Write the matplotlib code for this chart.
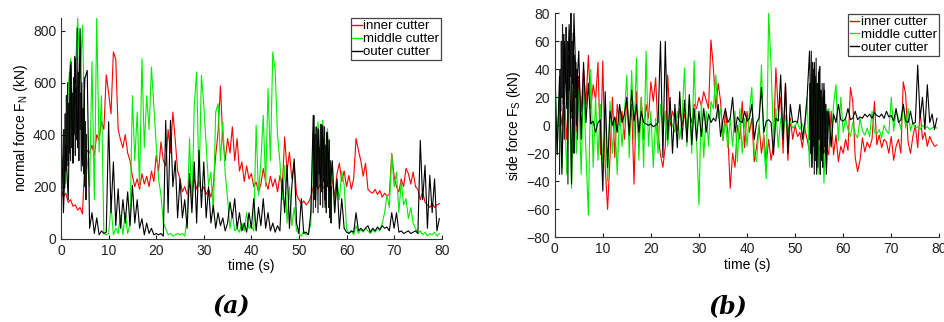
import numpy as np
import matplotlib.pyplot as plt

plt.rcParams['font.family'] = ['Liberation Sans', 'DejaVu Sans']

dt = 0.5
# finer step for the dense bursts of the outer cutter
dt_burst = 0.125

# (a) normal force, kN, one value every 0.5 s from t = 0
fn_inner = [190, 160, 175, 140, 150, 125, 130, 110, 120, 95,
            300, 340, 330, 360, 320, 400, 380, 450, 420, 630,
            560, 480, 718, 690, 420, 380, 350, 400, 330, 300,
            240, 200, 230, 190, 250, 210, 240, 200, 260, 220,
            320, 260, 372, 300, 280, 420, 330, 487, 380, 260,
            230, 180, 200, 170, 210, 180, 230, 190, 220, 180,
            200, 170, 190, 160, 205, 320, 410, 587, 380, 300,
            385, 330, 430, 300, 385, 260, 295, 220, 280, 230,
            250, 200, 218, 180, 210, 270, 220, 190, 240, 200,
            230, 180, 243, 200, 391, 260, 333, 230, 290, 170,
            150, 135, 145, 130, 140, 160, 200, 220, 190, 210,
            200, 190, 220, 180, 230, 160, 250, 290, 220, 260,
            200, 243, 190, 230, 385, 340, 300, 240, 290, 190,
            180, 175, 190, 170, 185, 160, 175, 165, 170, 327,
            240, 200, 180, 230, 200, 270, 250, 210, 256, 200,
            190, 150, 180, 140, 130, 120, 135, 120, 130, 135]
fn_middle = [250, 320, 210, 580, 692, 450, 640, 850, 615, 820,
             420, 300, 200, 680, 150, 850, 333, 550, 20, 15,
             20, 128, 15, 40, 20, 90, 15, 100, 20, 60,
             550, 300, 487, 200, 692, 350, 550, 420, 660, 513,
             360, 230, 167, 60, 40, 15, 20, 10, 15, 20,
             15, 20, 10, 80, 385, 120, 513, 641, 200, 628,
             513, 360, 205, 256, 100, 487, 519, 300, 450, 250,
             154, 40, 100, 30, 40, 25, 60, 30, 100, 40,
             50, 30, 436, 167, 295, 474, 200, 577, 300, 718,
             647, 397, 295, 150, 282, 60, 200, 50, 120, 30,
             20, 10, 30, 15, 20, 60, 410, 200, 449, 300,
             455, 250, 423, 100, 295, 100, 218, 150, 260, 205,
             40, 20, 30, 15, 50, 20, 35, 25, 40, 30,
             20, 35, 25, 40, 30, 60, 100, 167, 120, 327,
             200, 256, 100, 220, 130, 154, 77, 120, 60, 40,
             20, 30, 15, 25, 10, 20, 15, 25, 10, 20]
fn_outer = [500, 100, 360, 150, 667, 300, 692, 350, 808, 280,
            615, 647, 40, 100, 20, 80, 15, 30, 20, 25,
            450, 100, 295, 50, 192, 40, 150, 60, 180, 50,
            205, 60, 150, 40, 77, 15, 60, 20, 40, 15,
            20, 15, 20, 10, 455, 100, 455, 200, 300, 80,
            230, 80, 150, 40, 250, 100, 295, 60, 340, 120,
            295, 80, 200, 60, 128, 40, 100, 50, 80, 30,
            60, 141, 80, 154, 40, 100, 30, 60, 25, 100,
            40, 154, 30, 120, 50, 154, 40, 100, 30, 60,
            25, 50, 30, 230, 100, 282, 40, 200, 307, 60,
            20, 154, 20, 25, 15, 100, 474, 150, 423, 200,
            435, 120, 400, 180, 300, 100, 230, 38, 154, 40,
            25, 20, 30, 25, 100, 30, 40, 30, 40, 50,
            25, 40, 30, 45, 35, 50, 40, 45, 30, 100,
            40, 100, 25, 30, 20, 25, 30, 20, 25, 30,
            20, 378, 150, 282, 40, 244, 100, 230, 30, 77]

# dense bursts of the outer cutter in (a), start times and 0.125 s samples
fn_burst_start = [0.5, 53.0]
fn_burst_1 = [150, 420, 200, 480, 260, 550, 300, 600, 280, 520,
              330, 640, 300, 680, 350, 560, 290, 620, 400, 700,
              320, 580, 380, 810, 350, 640, 300, 700, 420, 560,
              260, 600, 300, 500, 250, 620, 200, 450, 150, 400]
fn_burst_2 = [100, 474, 150, 400, 120, 430, 200, 380, 100, 420,
              250, 350, 130, 440, 180, 400, 120, 380, 220, 430,
              150, 360, 100, 410, 200, 330, 120, 380, 80, 300,
              60, 200]

# (b) side force, kN
fs_inner = [10, -5, 15, 0, 20, -10, 25, 5, 30, -5,
            35, 10, 40, 15, 50, 12, 29, 18, 45, -21,
            46, -30, -60, -23, 20, -23, 15, 0, 10, -10,
            20, -10, 15, -42, 24, -16, 20, -10, 15, 5,
            31, 17, 34, -7, -21, -30, -15, 36, 0, 10,
            5, -4, 12, 0, 8, -5, 10, 2, 15, 12,
            20, 14, 24, 18, 12, 61, 41, 12, 30, 17,
            -11, 10, -5, -45, -20, -30, 0, -10, 17, -16,
            10, -5, 5, -26, -15, 0, -20, -7, -28, -10,
            -25, -15, 41, 10, 20, -20, 30, -25, 5, -10,
            0, -8, -5, -16, -2, -10, -19, -7, -15, -12,
            -18, -10, -19, -16, -21, 10, -21, -7, -26, -15,
            -20, -10, -18, 27, 17, -23, -33, -25, -9, -19,
            -12, -16, -10, 17, -14, -7, -16, -10, -12, -20,
            -8, -25, -15, -10, -20, 31, 22, -12, -20, -8,
            0, -16, 10, -10, -5, -15, -8, -12, -15, -14]
fs_middle = [50, -20, 24, -30, 20, -35, 30, -45, 36, -20,
             25, -35, 30, -20, -64, 40, -30, 20, -25, 15,
             -30, 10, -40, 17, -20, 5, -35, 10, -15, 8,
             36, -23, 39, -10, 48, -25, 20, -30, 53, -15,
             10, -30, 5, -20, 15, -5, 10, -15, 5, 0,
             -5, 10, -10, 5, 41, -15, 20, -20, 46, -10,
             -57, 17, -23, 10, -15, 17, 12, 36, 5, 12,
             -10, 3, -16, 5, -15, 10, -26, 12, -20, 5,
             -15, 10, 27, -20, -26, 0, 43, -15, -38, 80,
             43, -10, 12, -16, 5, -7, 7, -5, 3, -2,
             0, 2, -3, 1, -5, 20, -30, 36, -25, 30,
             -35, 20, -41, 10, 12, -16, 15, 29, -11, 20,
             -5, 5, -3, -8, 2, -6, -9, 5, -4, -7,
             -2, -8, 10, -5, -6, -3, -9, 0, -4, -6,
             20, -4, 10, 5, -3, 15, -2, 12, -4, 2,
             -2, -1, -3, 0, -2, -1, -3, -2, -1, -2]
fs_outer = [43, -21, 35, -35, 60, 12, 72, -42, 80, 20,
            53, -10, 45, 2, 30, 1, 3, -5, 2, 4,
            -47, 24, -30, 10, 0, 6, -5, 15, 2, 8,
            20, -7, 25, 3, 15, -5, 10, 2, 1, 0,
            1, -1, 0, 2, 60, -23, 60, -10, 20, -20,
            15, -16, 24, -10, 18, -12, 22, -14, 12, -11,
            10, -8, 12, -5, 8, 2, 5, 3, 15, -8,
            4, 12, 2, 5, 20, -5, 6, 3, 2, 10,
            3, 5, 15, -10, 2, 5, 27, -5, 3, 4,
            2, -21, 5, 3, 36, -10, 30, -20, 15, 2,
            3, 2, 15, -10, 1, 20, 53, -30, 45, -35,
            40, -25, 30, -35, 10, -15, 8, 2, 15, 4,
            3, 5, 12, 4, 5, 10, 4, 6, 5, 8,
            6, 8, 5, 9, 7, 6, 8, 5, 10, 6,
            7, 3, 12, 2, 4, 15, 3, 2, 10, 1,
            2, 43, 5, 20, -3, 29, 2, 8, -3, 5]

fs_burst_start = [1.0, 53.0]
fs_burst_1 = [-35, 40, 10, 60, 20, 72, 15, 65, -10, 55,
              30, 70, 20, 60, -42, 50, 25, 68, 35, 80,
              10, 60, 30, 66, -20, 50, 20, 45, 0, 40,
              -10, 35]
fs_burst_2 = [-10, 30, -20, 53, -30, 45, -15, 40, -35, 35,
              -25, 48, -20, 30, -30, 38, -10, 42, -35, 25,
              -25, 30, -30, 20, -20, 25, -15, 15, -25, 10,
              -10, 5]

labels = ['inner cutter', 'middle cutter', 'outer cutter']
colours = ['#ff0000', '#00ee00', '#000000']

t = np.arange(len(fn_inner)) * dt

fig = plt.figure(figsize=(9.45, 3.22), dpi=100)
ax_a = fig.add_axes([0.0646, 0.2587, 0.4028, 0.6866])
ax_b = fig.add_axes([0.587, 0.263, 0.407, 0.6957])


def style_axes(ax, ylim, yticks, ylabel):
    ax.set_xlim(0, 80)
    ax.set_ylim(*ylim)
    ax.set_xticks(np.arange(0, 81, 10))
    ax.set_yticks(yticks)
    ax.spines['top'].set_visible(False)
    ax.spines['right'].set_visible(False)
    ax.spines['left'].set_color('#333333')
    ax.spines['bottom'].set_color('#333333')
    ax.tick_params(direction='in', length=3, labelsize=10, colors='#222222')
    ax.set_xlabel('time (s)', fontsize=10, labelpad=1)
    ax.set_ylabel(ylabel, fontsize=10, labelpad=2)
    leg = ax.legend(loc='upper right', bbox_to_anchor=(1.0, 1.0), fontsize=9.5,
                    handlelength=0.7, handletextpad=0.1, labelspacing=0.05,
                    borderpad=0.15, borderaxespad=0.05, fancybox=False, framealpha=1)
    leg.get_frame().set_edgecolor('#444444')
    leg.get_frame().set_linewidth(0.9)
    for line in leg.get_lines():
        line.set_linewidth(1.0)


def draw(ax, series, bursts, burst_start):
    for s, c, lab in zip(series, colours, labels):
        ax.plot(t, s, color=c, lw=0.8, label=lab)
    for b, t0 in zip(bursts, burst_start):
        tb = t0 + np.arange(len(b)) * dt_burst
        ax.plot(tb, b, color=colours[2], lw=0.8, alpha=0.9)


draw(ax_a, [fn_inner, fn_middle, fn_outer], [fn_burst_1, fn_burst_2], fn_burst_start)
style_axes(ax_a, (0, 850), [0, 200, 400, 600, 800], 'normal force F$_\\mathregular{N}$ (kN)')

draw(ax_b, [fs_inner, fs_middle, fs_outer], [fs_burst_1, fs_burst_2], fs_burst_start)
style_axes(ax_b, (-80, 80), np.arange(-80, 81, 20), 'side force F$_\\mathregular{S}$ (kN)')

fig.text(0.2444, 0.05, '(a)', fontsize=17, family='DejaVu Serif', style='italic',
         weight='bold', ha='center', va='center')
fig.text(0.770, 0.05, '(b)', fontsize=17, family='DejaVu Serif', style='italic',
         weight='bold', ha='center', va='center')

fig.savefig('out.png', dpi=100)
